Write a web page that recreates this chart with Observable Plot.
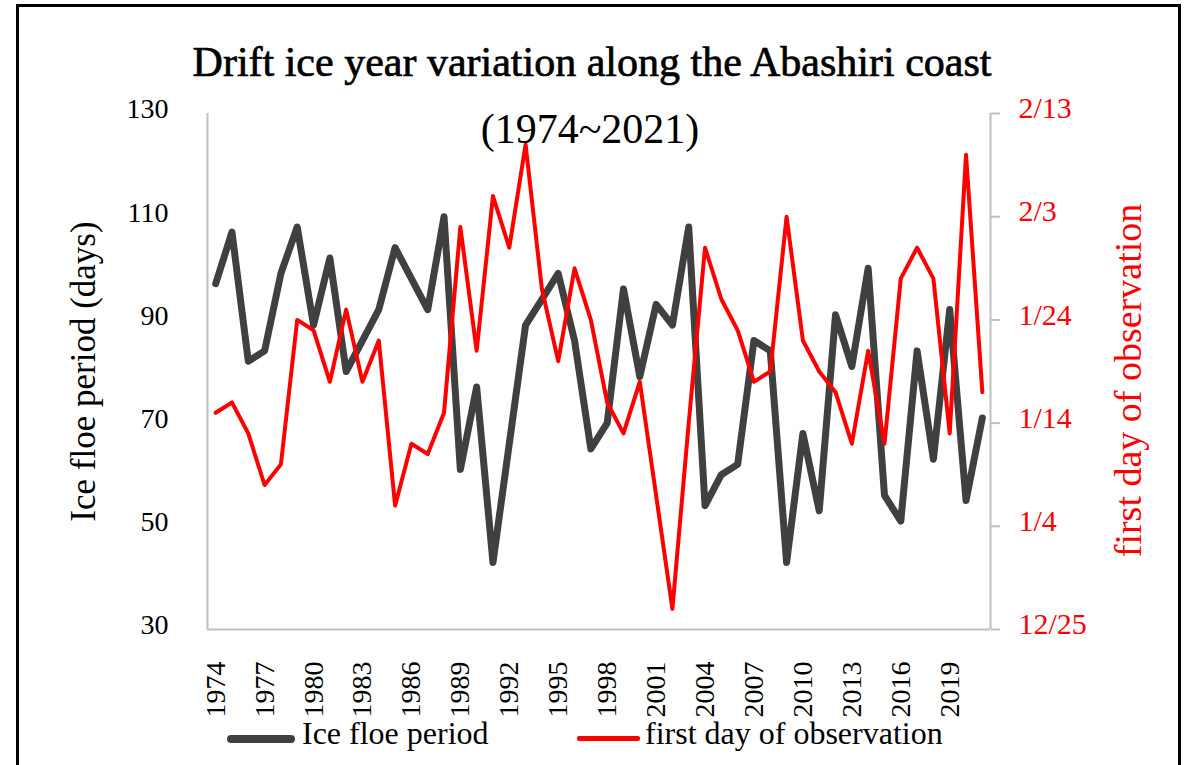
<!DOCTYPE html>
<html><head><meta charset="utf-8">
<script src="https://cdn.jsdelivr.net/npm/d3@7"></script>
<script src="https://cdn.jsdelivr.net/npm/@observablehq/plot@0.6"></script>
<style>
body{margin:0;background:#fff;}
#wrap{position:relative;width:1188px;height:765px;overflow:hidden;font-family:"Liberation Serif",serif;color:#000;background:#fff;}
#chart{position:absolute;left:0;top:0;}
#chart svg, #chart svg text{font-family:"Liberation Serif",serif !important;}
#frame{position:absolute;left:16px;top:4px;width:1165px;height:800px;border:3px solid #000;box-sizing:border-box;pointer-events:none;}
.lg{position:absolute;white-space:nowrap;line-height:1;font-size:32px;}
.sw{position:absolute;border-radius:4px;}
</style></head><body>
<div id="wrap">
  <div id="chart"></div>
  <div id="frame"></div>
  <div class="sw" style="left:227px;top:735px;width:68px;height:8px;background:#404040;"></div>
  <div class="lg" style="left:302px;top:717px;">Ice floe period</div>
  <div class="sw" style="left:577px;top:736px;width:63px;height:5px;background:#ff0000;border-radius:2px;"></div>
  <div class="lg" style="left:645px;top:717px;">first day of observation</div>
</div>
<script>
const years = [1974,1975,1976,1977,1978,1979,1980,1981,1982,1983,
  1984,1985,1986,1987,1988,1989,1990,1991,1992,1993,
  1994,1995,1996,1997,1998,1999,2000,2001,2002,2003,
  2004,2005,2006,2007,2008,2009,2010,2011,2012,2013,
  2014,2015,2016,2017,2018,2019,2020,2021];
const icePeriod = [97,107,82,84,99,108,89,102,80,86,
  92,104,98,92,110,61,77,43,66,89,
  94,99,86,65,70,96,79,93,89,108,
  54,60,62,86,84,43,68,53,91,81,
  100,56,51,84,63,92,55,71];
const firstDay = ["1/15","1/16","1/13","1/8","1/10","1/24","1/23","1/18","1/25","1/18",
  "1/22","1/6","1/12","1/11","1/15","2/2","1/21","2/5","1/31","2/10",
  "1/27","1/20","1/29","1/24","1/16","1/13","1/18","1/7","12/27","1/14",
  "1/31","1/26","1/23","1/18","1/19","2/3","1/22","1/19","1/17","1/12",
  "1/21","1/12","1/28","1/31","1/28","1/13","2/9","1/17"];
const leftTicks = [30,50,70,90,110,130];
const rightTickLabels = ["12/25","1/4","1/14","1/24","2/3","2/13"];
const xTicks = [1974,1977,1980,1983,1986,1989,1992,1995,1998,2001,2004,2007,2010,2013,2016,2019];
const titleText = "Drift ice year variation along the Abashiri coast";
const subtitleText = "(1974~2021)";
const leftTitle = "Ice floe period (days)";
const rightTitle = "first day of observation";

// first-day dates are shown on the right axis; 12/25 = left 30, 1 day = 2 units on the left scale
const base = new Date(2000, 11, 25);
function dayOf(s) {
  const [m, d] = s.split("/").map(Number);
  const dt = new Date(m === 12 ? 2000 : 2001, m - 1, d);
  return Math.round((dt - base) / 86400000);
}
const toLeft = d => 30 + 2 * d;
function fmtRight(v) {
  const dt = d3.timeDay.offset(base, Math.round((v - 30) / 2));
  return (dt.getMonth() + 1) + "/" + dt.getDate();
}
const rightTicks = rightTickLabels.map(s => toLeft(dayOf(s)));

const data = years.map((y, i) => ({year: y, period: icePeriod[i], first: toLeft(dayOf(firstDay[i]))}));

const FF = "Liberation Serif";
const W = 1188, H = 765;
const chart = Plot.plot({
  width: W, height: H,
  marginTop: 113, marginBottom: 136, marginLeft: 207, marginRight: 198,
  style: {fontFamily: FF, background: "transparent", color: "#000"},
  x: {type: "linear", domain: [1973.5, 2021.5]},
  y: {domain: [30, 130]},
  marks: [
    Plot.ruleX([1973.5], {stroke: "#bfbfbf", strokeWidth: 2}),
    Plot.ruleX([2021.5], {stroke: "#bfbfbf", strokeWidth: 2}),
    Plot.ruleY([30], {stroke: "#bfbfbf", strokeWidth: 2}),
    Plot.axisY({anchor: "left", ticks: leftTicks, tickSize: 0, tickPadding: 39, fontSize: 28, fontFamily: FF, dy: -4, label: null, color: "#000"}),
    Plot.axisY({anchor: "right", ticks: rightTicks, tickSize: 9, tickFormat: () => "", label: null, color: "#bfbfbf", strokeWidth: 2}),
    Plot.axisY({anchor: "right", ticks: rightTicks, tickSize: 0, tickPadding: 28, tickFormat: fmtRight, fontSize: 30, fontFamily: FF, dy: -5, label: null, color: "#ff0000"}),
    Plot.axisX({ticks: xTicks, tickFormat: d => String(d), tickRotate: -90, tickSize: 0, tickPadding: 32, fontSize: 28, fontFamily: FF, label: null, color: "#000"}),
    Plot.line(data, {x: "year", y: "period", stroke: "#404040", strokeWidth: 7, strokeLinejoin: "round", strokeLinecap: "round"}),
    Plot.line(data, {x: "year", y: "first", stroke: "#ff0000", strokeWidth: 4, strokeLinejoin: "round", strokeLinecap: "round"}),
    Plot.text([titleText], {frameAnchor: "top", textAnchor: "middle", dx: -7, dy: 75 - 113, lineAnchor: "bottom", fontSize: 42, fontFamily: FF, fill: "#000", stroke: "#000", strokeWidth: 0.7}),
    Plot.text([subtitleText], {frameAnchor: "top", textAnchor: "middle", dx: -9, dy: 142 - 113, lineAnchor: "bottom", fontSize: 42, fontFamily: FF, fill: "#000"}),
    Plot.text([leftTitle], {frameAnchor: "left", textAnchor: "middle", lineAnchor: "middle", dx: 83 - 207, rotate: -90, fontSize: 35, fontFamily: FF, fill: "#000"}),
    Plot.text([rightTitle], {frameAnchor: "right", textAnchor: "middle", lineAnchor: "middle", dx: 1128 - 990, dy: 9, rotate: -90, fontSize: 38, fontFamily: FF, fill: "#ff0000"})
  ]
});
document.getElementById("chart").appendChild(chart);
</script>
</body></html>
